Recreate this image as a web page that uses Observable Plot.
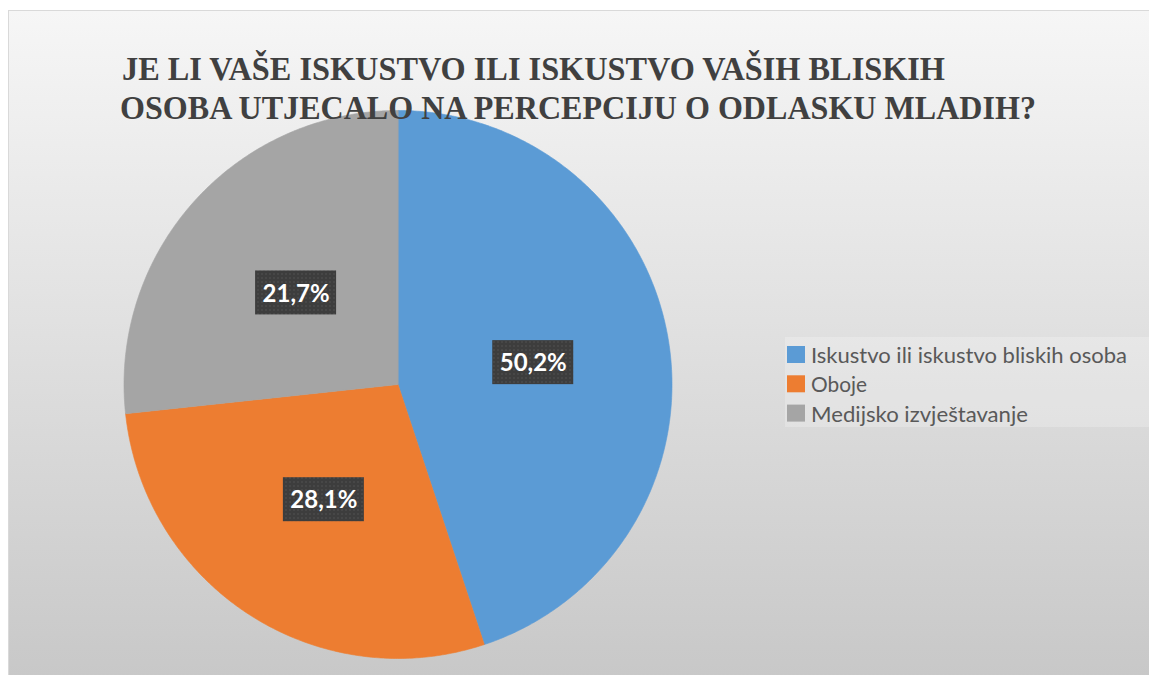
<!DOCTYPE html>
<html>
<head>
<meta charset="utf-8">
<script src="https://cdn.jsdelivr.net/npm/d3@7"></script>
<script src="https://cdn.jsdelivr.net/npm/@observablehq/plot@0.6"></script>
<style>
  html, body { margin: 0; padding: 0; background: #ffffff; }
  #wrap { position: relative; width: 1149px; height: 675px; overflow: hidden; }
  #panel { position: absolute; left: 8px; top: 10px; width: 1143px; height: 667px; box-sizing: border-box;
           border: 1px solid #d9d9d9;
           background: linear-gradient(to bottom, #f6f6f6 0%, #e4e4e4 40%, #c8c8c8 100%); }
  #chart { position: absolute; left: 0; top: 0; }
</style>
</head>
<body>
<div id="wrap"><div id="panel"></div><div id="chart"></div></div>
<script>
// ---- data ----
const categories = ["Iskustvo ili iskustvo bliskih osoba", "Oboje", "Medijsko izvještavanje"];
const shares = [44.9, 28.4, 26.7];          // slice sizes as drawn in the picture
const labels = ["50,2%", "28,1%", "21,7%"]; // data labels as printed
const colors = ["#5b9bd5", "#ed7d31", "#a5a5a5"];
const titleLines = ["JE LI VAŠE ISKUSTVO ILI ISKUSTVO VAŠIH BLISKIH",
                    "OSOBA UTJECALO NA PERCEPCIJU O ODLASKU MLADIH?"];

// ---- geometry derived from data ----
const total = d3.sum(shares);
let acc = 0;
const slices = categories.map((c, i) => {
  const a0 = acc / total * 2 * Math.PI; acc += shares[i];
  const a1 = acc / total * 2 * Math.PI;
  return {c, a0, a1, label: labels[i]};
});
const outline = slices.flatMap(s => {
  const n = Math.max(2, Math.ceil((s.a1 - s.a0) / (Math.PI / 360)));
  const pts = [{c: s.c, x: 0, y: 0}];
  for (let k = 0; k <= n; k++) {
    const a = s.a0 + (s.a1 - s.a0) * k / n;
    pts.push({c: s.c, x: Math.sin(a), y: Math.cos(a)});
  }
  return pts;
});
const labelPts = slices.map(s => {
  const m = (s.a0 + s.a1) / 2;
  return {label: s.label, x: 0.5 * Math.sin(m), y: 0.5 * Math.cos(m)};
});

// ---- layout ----
const W = 1149, H = 675, cx = 397.5, cy = 384, R = 274;

const chart = Plot.plot({
  width: W, height: H, margin: 0,
  style: {background: "transparent", overflow: "visible"},
  x: {domain: [-1, 1], range: [cx - R, cx + R], axis: null},
  y: {domain: [-1, 1], range: [cy + R, cy - R], axis: null},
  color: {domain: categories, range: colors},
  marks: [
    Plot.line(outline, {x: "x", y: "y", z: "c", fill: "c", stroke: "c", strokeWidth: 0.6, curve: "linear-closed"}),
    Plot.rect(labelPts, {x1: "x", x2: "x", y1: "y", y2: "y",
      insetLeft: -40.5, insetRight: -40.5, insetTop: -22, insetBottom: -22, fill: "url(#lblDots)"}),
    Plot.text(labelPts, {x: "x", y: "y", text: "label", fill: "white",
      fontFamily: "Lato", fontWeight: "bold", fontSize: 24, dy: 1})
  ]
});
document.getElementById("chart").appendChild(chart);

const svg = d3.select(chart);
// pattern for label boxes
const pat = svg.append("defs").append("pattern")
  .attr("id", "lblDots").attr("patternUnits", "userSpaceOnUse").attr("width", 4).attr("height", 4);
pat.append("rect").attr("width", 4).attr("height", 4).attr("fill", "#3d3d3d");
pat.append("circle").attr("cx", 2).attr("cy", 2).attr("r", 0.7).attr("fill", "#575757");

// legend
const lg = svg.append("g").attr("text-anchor", "start");
lg.append("rect").attr("x", 785).attr("y", 337).attr("width", 364).attr("height", 90)
  .attr("fill", "#ffffff").attr("fill-opacity", 0.22);
const legendWidths = [316, 56, 217];
categories.forEach((c, i) => {
  const base = 363 + i * 29.3;
  lg.append("rect").attr("x", 787).attr("y", base - 17).attr("width", 18).attr("height", 17).attr("fill", colors[i]);
  lg.append("text").attr("x", 811).attr("y", base).text(c)
    .attr("text-anchor", "start")
    .attr("font-family", "Lato").attr("font-size", 21).attr("fill", "#595959")
    .attr("textLength", legendWidths[i]).attr("lengthAdjust", "spacingAndGlyphs");
});

// title (drawn over the pie)
const tg = svg.append("g").attr("text-anchor", "start");
const titleX = [122, 120], titleY = [80, 118.5], titleW = [823, 916];
titleLines.forEach((t, i) => {
  tg.append("text").attr("x", titleX[i]).attr("y", titleY[i]).text(t)
    .attr("text-anchor", "start")
    .attr("font-family", "Liberation Serif").attr("font-weight", "bold").attr("font-size", 34)
    .attr("fill", "#404040").attr("textLength", titleW[i]).attr("lengthAdjust", "spacingAndGlyphs");
});
</script>
</body>
</html>
